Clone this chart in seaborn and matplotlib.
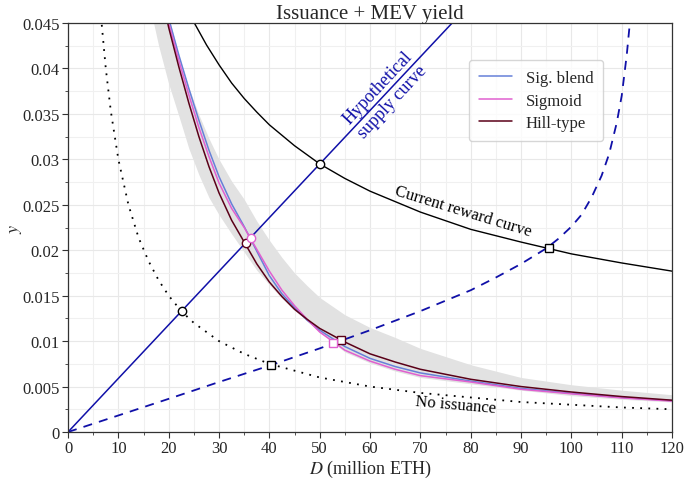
import matplotlib
matplotlib.use('Agg')
import matplotlib.pyplot as plt
import seaborn as sns
from matplotlib.ticker import MultipleLocator, FormatStrFormatter

# current reward curve (issuance + MEV)
reward_D = [24.8, 26, 27.5, 30, 32.5, 35, 37.5, 40, 45, 50, 55, 60, 70, 80, 90, 100, 110, 120]
reward_y = [0.0453, 0.0441, 0.0426, 0.0404, 0.0384, 0.0367, 0.0352, 0.0338, 0.0315, 0.0295,
            0.0279, 0.0265, 0.0242, 0.0223, 0.0209, 0.0196, 0.0186, 0.0177]

# no issuance (MEV only)
noiss_D = [6.7, 7.5, 8.5, 10, 12, 14, 16, 18, 20, 22.5, 25, 30, 35, 40, 50, 60, 70, 80, 90, 100, 110, 120]
noiss_y = [0.0448, 0.0400, 0.0353, 0.0300, 0.0250, 0.0214, 0.0188, 0.0167, 0.0150, 0.0133, 0.0120,
           0.0100, 0.0086, 0.0075, 0.0060, 0.0050, 0.0043, 0.0038, 0.0033, 0.0030, 0.0027, 0.0025]

# hypothetical supply curve (straight line)
supply_D = [0, 76.3]
supply_y = [0, 0.045]

# dashed supply curve
dash_D = [0, 10, 20, 30, 40, 50, 60, 70, 80, 85, 90, 95, 97.5, 100, 102, 104, 106, 107.5, 109,
          110, 111, 111.7]
dash_y = [0, 0.00182, 0.00365, 0.0055, 0.0073, 0.0092, 0.0112, 0.0133, 0.0156, 0.0170, 0.0185,
          0.0202, 0.0213, 0.0226, 0.0239, 0.0258, 0.0282, 0.0306, 0.0340, 0.0370, 0.0415, 0.0455]

# fitted demand curves
fit_D = [19.8, 20, 22, 24, 26, 28, 30, 32.5, 35, 37.5, 40, 42.5, 45, 47.5, 50, 55, 60, 65, 70,
         80, 90, 100, 110, 120]
blend_y = [0.0460, 0.0455, 0.0415, 0.0378, 0.0343, 0.0310, 0.0281, 0.0251, 0.0226, 0.0199, 0.0172,
           0.0152, 0.0137, 0.0123, 0.0112, 0.0094, 0.0081, 0.0072, 0.0065, 0.0056, 0.0048, 0.00425,
           0.0038, 0.00345]
sigmoid_y = [0.0455, 0.0450, 0.0409, 0.0371, 0.0335, 0.0303, 0.0274, 0.0246, 0.0225, 0.0201, 0.0177,
             0.0156, 0.0139, 0.0124, 0.0110, 0.0090, 0.0078, 0.0069, 0.0062, 0.0055, 0.0047, 0.0042,
             0.00375, 0.0034]
hill_y = [0.0450, 0.0445, 0.0402, 0.0362, 0.0325, 0.0292, 0.0263, 0.0233, 0.0209, 0.0185, 0.0165,
          0.0149, 0.0135, 0.0124, 0.0114, 0.0099, 0.0086, 0.0077, 0.0069, 0.0058, 0.0050, 0.0044,
          0.0039, 0.0035]

# grey band around the fits
band_D = [17, 18, 20, 22, 24, 26, 28, 30, 32.5, 35, 37.5, 40, 42.5, 45, 47.5, 50, 55, 60, 65, 70,
          80, 90, 100, 110, 120]
band_lo = [0.0450, 0.0425, 0.0383, 0.0348, 0.0312, 0.0283, 0.0258, 0.0239, 0.0218, 0.0198, 0.0178,
           0.0162, 0.0147, 0.0134, 0.0122, 0.0110, 0.0088, 0.0076, 0.0067, 0.0060, 0.0053, 0.0046,
           0.0040, 0.0036, 0.0033]
band_hi = [0.0560, 0.0520, 0.0457, 0.0414, 0.0379, 0.0349, 0.0323, 0.0300, 0.0276, 0.0256, 0.0232,
           0.0211, 0.0192, 0.0175, 0.0161, 0.0148, 0.0129, 0.0115, 0.0104, 0.0092, 0.0074, 0.0060,
           0.0052, 0.0046, 0.0041]

# intersection markers
circ_D = [50.0, 22.6, 35.3, 36.3]
circ_y = [0.0295, 0.0133, 0.0208, 0.0214]
circ_c = ['black', 'black', '#5a0018', '#e060d0']
sq_D = [40.4, 95.5, 54.3, 52.7]
sq_y = [0.0074, 0.0203, 0.0101, 0.0098]
sq_c = ['black', 'black', '#5a0018', '#e060d0']

blue = '#1010a8'
c_blend = '#6680d8'
c_sig = '#e060d0'
c_hill = '#5a0018'

sns.set_theme(style='whitegrid')
plt.rcParams['font.family'] = ['Liberation Serif', 'DejaVu Serif']
plt.rcParams['mathtext.fontset'] = 'stix'

fig = plt.figure(figsize=(6.9, 4.81), dpi=100)
ax = fig.add_axes([0.0986, 0.0998, 0.8754, 0.8502])
ax.set_facecolor('white')

ax.fill_between(band_D, band_lo, band_hi, color='#e2e2e2', lw=0, zorder=1)

sns.lineplot(x=noiss_D, y=noiss_y, ax=ax, color='black', lw=1.3, linestyle=(0, (1, 3.5)),
             sort=False, estimator=None)
sns.lineplot(x=reward_D, y=reward_y, ax=ax, color='black', lw=1.0, sort=False, estimator=None)
sns.lineplot(x=supply_D, y=supply_y, ax=ax, color=blue, lw=1.1, sort=False, estimator=None)
sns.lineplot(x=dash_D, y=dash_y, ax=ax, color=blue, lw=1.3, linestyle=(0, (5, 4)),
             sort=False, estimator=None)
sns.lineplot(x=fit_D, y=blend_y, ax=ax, color=c_blend, lw=1.1, sort=False, estimator=None,
             label='Sig. blend')
sns.lineplot(x=fit_D, y=sigmoid_y, ax=ax, color=c_sig, lw=1.1, sort=False, estimator=None,
             label='Sigmoid')
sns.lineplot(x=fit_D, y=hill_y, ax=ax, color=c_hill, lw=1.1, sort=False, estimator=None,
             label='Hill-type')

for d, v, c in zip(circ_D, circ_y, circ_c):
    ax.plot(d, v, 'o', ms=6, mfc='white', mec=c, mew=1.0, zorder=5)
for d, v, c in zip(sq_D, sq_y, sq_c):
    ax.plot(d, v, 's', ms=6, mfc='white', mec=c, mew=1.0, zorder=5)

ax.text(63.0, 0.0372, 'Hypothetical\nsupply curve', color=blue, fontsize=13, rotation=47,
        ha='center', va='center', linespacing=1.25, rotation_mode='anchor')
ax.text(78.5, 0.0243, 'Current reward curve', color='black', fontsize=12, rotation=-17,
        ha='center', va='center')
ax.text(77, 0.0030, 'No issuance', color='black', fontsize=12, rotation=-5,
        ha='center', va='center')

ax.set_xlim(0, 120)
ax.set_ylim(0, 0.045)
ax.xaxis.set_major_locator(MultipleLocator(10))
ax.xaxis.set_minor_locator(MultipleLocator(5))
ax.yaxis.set_major_locator(MultipleLocator(0.005))
ax.yaxis.set_minor_locator(MultipleLocator(0.0025))
ax.yaxis.set_major_formatter(FormatStrFormatter('%g'))
ax.grid(which='major', color='#e8e8e8', lw=0.8)
ax.grid(which='minor', color='#f0f0f0', lw=0.8)
ax.tick_params(which='major', direction='out', length=4, width=0.8, color='#333333',
               labelsize=12, bottom=True, left=True, pad=2)
ax.tick_params(which='minor', direction='out', length=2, width=0.6, color='#333333',
               bottom=True, left=True)
for s in ax.spines.values():
    s.set_color('#333333')
    s.set_linewidth(0.9)

ax.set_xlabel('$D$ (million ETH)', fontsize=13, labelpad=1)
ax.set_ylabel('$y$', fontsize=13, labelpad=-1)
ax.set_title('Issuance + MEV yield', fontsize=15, pad=3)

leg = ax.legend(loc='upper right', bbox_to_anchor=(0.886, 0.91), borderaxespad=0, fontsize=12,
                frameon=True, fancybox=True, handlelength=2.0, handletextpad=0.8,
                borderpad=0.6, labelspacing=0.4)
leg.get_frame().set_edgecolor('#cccccc')
leg.get_frame().set_facecolor('white')

fig.savefig('out.png', dpi=100)
